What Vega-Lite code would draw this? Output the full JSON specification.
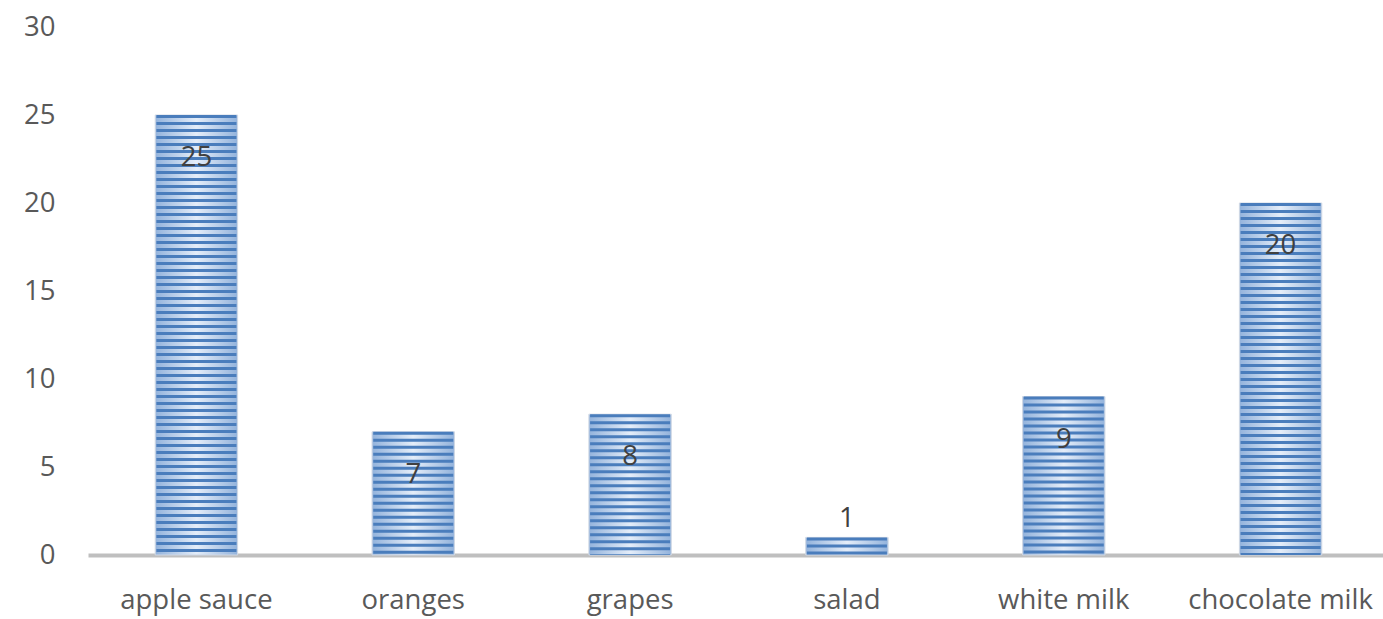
{
  "$schema": "https://vega.github.io/schema/vega-lite/v6.json",
  "autosize": "none",
  "width": 1301,
  "height": 528,
  "padding": {"left": 88, "top": 27, "right": 0, "bottom": 64},
  "background": "white",
  "config": {"view": {"stroke": null}, "font": "Open Sans"},
  "data": {"values": [
    {"item": "apple sauce", "count": 25},
    {"item": "oranges", "count": 7},
    {"item": "grapes", "count": 8},
    {"item": "salad", "count": 1},
    {"item": "white milk", "count": 9},
    {"item": "chocolate milk", "count": 20}
  ]},
  "encoding": {
    "x": {"field": "item", "type": "nominal", "sort": null,
      "scale": {"paddingInner": 0.62, "paddingOuter": 0.31},
      "axis": {"title": null, "labelAngle": 0, "labelFontSize": 27.5, "labelColor": "#595959", "labelFont": "Open Sans",
        "labelLimit": 0, "labelOverlap": false, "labelBound": false,
        "ticks": false, "domainColor": "#bfbfbf", "domainWidth": 4, "labelPadding": 45, "labelBaseline": "middle", "zindex": 0}},
    "y": {"field": "count", "type": "quantitative",
      "scale": {"domain": [0, 30]},
      "axis": {"title": null, "values": [0, 5, 10, 15, 20, 25, 30], "grid": false, "domain": false, "ticks": false,
        "labelFontSize": 27.5, "labelColor": "#595959", "labelFont": "Open Sans", "labelPadding": 33}}
  },
  "layer": [
    {"mark": {"type": "bar", "stroke": "#d0d8e4", "strokeWidth": 1,
      "fill": {"gradient": "linear", "x1": 0, "y1": 0, "x2": 1, "y2": 0,
        "stops": [{"offset": 0, "color": "#93b3dc"}, {"offset": 0.5, "color": "#e4edf9"}, {"offset": 1, "color": "#93b3dc"}]}}},
    {"mark": {"type": "rule", "color": "#4a7dbc", "strokeWidth": 80, "strokeDash": [3, 4], "strokeCap": "butt"},
      "encoding": {"y2": {"datum": 0}}},
    {"transform": [{"filter": "datum.count >= 5"}],
      "mark": {"type": "text", "dy": 43, "fontSize": 27.5, "color": "#404040", "font": "Open Sans"},
      "encoding": {"text": {"field": "count", "type": "quantitative"}}},
    {"transform": [{"filter": "datum.count < 5"}],
      "mark": {"type": "text", "dy": -18, "fontSize": 27.5, "color": "#404040", "font": "Open Sans"},
      "encoding": {"text": {"field": "count", "type": "quantitative"}}}
  ]
}
